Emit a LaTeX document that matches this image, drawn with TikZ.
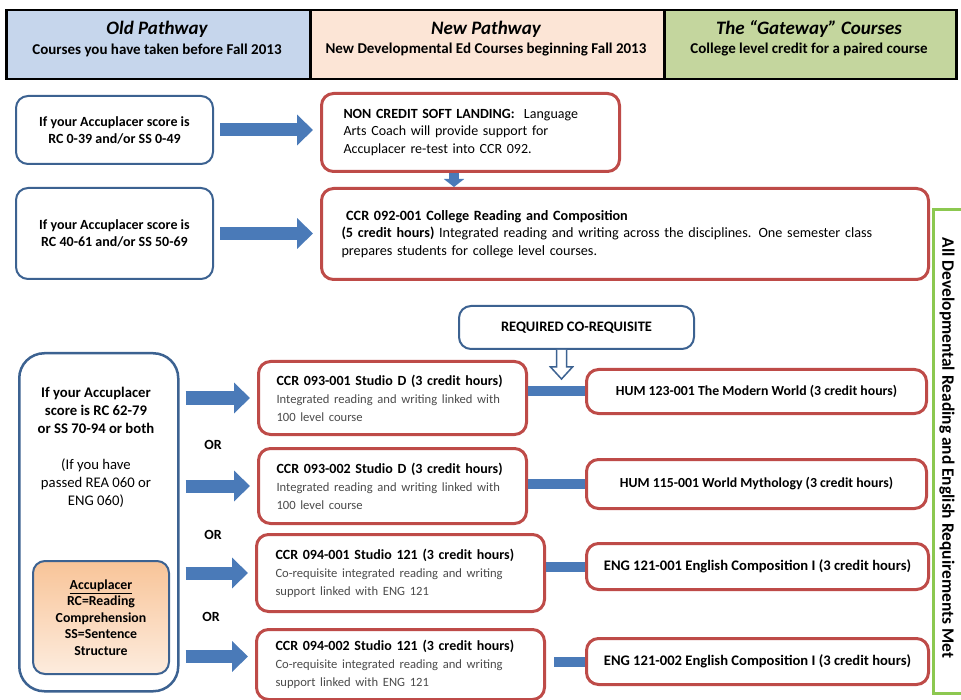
\documentclass[tikz,border=0pt]{standalone}
\usepackage{fontspec}
\setmainfont{Carlito}
\usetikzlibrary{arrows.meta}
\newcommand\myfs[2]{\fontsize{#1}{#2}\selectfont}
\definecolor{bbord}{RGB}{60,98,145}
\definecolor{rbord}{RGB}{190,75,72}
\definecolor{arrblue}{RGB}{74,122,184}
\definecolor{oldfill}{RGB}{198,214,236}
\definecolor{newfill}{RGB}{252,229,214}
\definecolor{gatefill}{RGB}{196,214,158}
\definecolor{gborder}{RGB}{140,200,80}
\definecolor{desc}{RGB}{75,75,75}
\definecolor{accTop}{RGB}{248,196,152}
\definecolor{accBot}{RGB}{253,236,222}
\begin{document}
\begin{tikzpicture}[x=1pt,y=-1pt,
  hdr/.style={draw=black, line width=2.5pt, inner sep=0pt, anchor=north west},
  hdrtitle/.style={inner sep=0pt, font=\bfseries\itshape\myfs{19}{22}},
  hdrsub/.style={inner sep=0pt, font=\bfseries\myfs{15}{18}},
  bluebox/.style={draw=bbord, line width=2pt, rounded corners=12pt, fill=white, inner sep=0pt, align=center, anchor=north west},
  redbox/.style={draw=rbord, line width=3pt, rounded corners=12pt, fill=white, inner sep=0pt, anchor=north west},
  blockarr/.style={line width=13pt, color=arrblue, -{Triangle[length=16pt,width=30pt]}, shorten <=6pt, shorten >=7pt},
  smallarr/.style={line width=10pt, color=arrblue, -{Triangle[length=8pt,width=20pt]}},
  linkbar/.style={line width=10pt, color=arrblue},
  orlabel/.style={font=\bfseries\myfs{14}{16}, inner sep=0pt}
]
\useasboundingbox (0,0) rectangle (961,700);

% header
\node[hdr, fill=oldfill, minimum width=304pt, minimum height=69pt] (old) at (5,9) {};
\node[hdr, fill=newfill, minimum width=354pt, minimum height=69pt] (new) at (309,9) {};
\node[hdr, fill=gatefill, minimum width=292pt, minimum height=69pt] (gate) at (663,9) {};
\node[hdrtitle] (oldt) at (157,29) {Old Pathway};
\node[hdrsub] (olds) at (157,50) {Courses you have taken before Fall 2013};
\node[hdrtitle] (newt) at (486,29) {New Pathway};
\node[hdrsub] (news) at (486,50) {New Developmental Ed Courses beginning Fall 2013};
\node[hdrtitle] (gatet) at (809,29) {The “Gateway” Courses};
\node[hdrsub] (gates) at (809,50) {College level credit for a paired course};

% top rows
\node[bluebox, minimum width=197pt, minimum height=68pt, font=\bfseries\myfs{14}{17}] (b1) at (15,95)
  {If your Accuplacer score is\\RC 0-39 and/or SS 0-49};
\node[bluebox, minimum width=197pt, minimum height=91pt, font=\bfseries\myfs{14}{17}] (b2) at (15,187)
  {If your Accuplacer score is\\RC 40-61 and/or SS 50-69};

\node[redbox, minimum width=298pt, minimum height=78pt, text width=254pt, align=left, font=\myfs{14}{17.5}] (nc) at (320,92)
  {\mbox{\textbf{NON CREDIT SOFT LANDING:}\ \ Language}\\\mbox{Arts Coach will provide support for}\\\mbox{Accuplacer re-test into CCR 092.}};
\node[redbox, minimum width=607pt, minimum height=91pt, text width=567pt, align=left, font=\myfs{14.2}{17.5}] (c92) at (320,187)
  {\mbox{\textbf{\ CCR 092-001 College Reading and Composition}}\\\mbox{\textbf{(5 credit hours)} Integrated reading and writing across the disciplines. One semester class}\\\mbox{prepares students for college level courses.}};

\draw[blockarr] (b1.east) -- (nc.west |- b1.east);
\draw[blockarr] (b2.east) -- (c92.west |- b2.east);
\coordinate (dx) at (454,0);
\draw[smallarr] (nc.south -| dx) -- (c92.north -| dx);

% left big box
\node[bluebox, line width=2.5pt, rounded corners=25pt, minimum width=159pt, minimum height=338pt] (big) at (18,352) {};
\node[align=center, inner sep=0pt, font=\myfs{14.7}{18}] (bigtxt) at (96,447)
  {\textbf{If your Accuplacer}\\\textbf{score is RC 62-79}\\\textbf{or SS 70-94 or both}\\[18pt](If you have\\passed REA 060 or\\ENG 060)};
\node[bluebox, fill=none, top color=accTop, bottom color=accBot, rounded corners=12pt, minimum width=136pt, minimum height=113pt, font=\bfseries\myfs{13.8}{16.5}] (acc) at (32,560)
  {\underline{Accuplacer}\\RC=Reading\\Comprehension\\SS=Sentence\\Structure};

% co-requisite
\node[bluebox, minimum width=235pt, minimum height=43pt, font=\bfseries\myfs{14.5}{16}] (co) at (458,305) {REQUIRED CO-REQUISITE};
\coordinate (ha) at ([xshift=-15pt]co.south);
\draw[draw=bbord, fill=white, line width=1.5pt, line join=miter]
  ([xshift=-5pt]ha) -- ++(0,17) -- ++(-6,0) -- ++(11,12) -- ++(11,-12) -- ++(-6,0) -- ++(0,-17);

% studio boxes
\tikzset{studio/.style={redbox, text width=232pt, align=left, font=\myfs{14}{18}}}
\node[studio, minimum width=268pt, minimum height=73pt] (s1) at (257,360)
  {\mbox{\textbf{CCR 093-001 Studio D (3 credit hours)}}\\\mbox{\color{desc}\myfs{12.6}{18}Integrated reading and writing linked with}\\\mbox{\color{desc}\myfs{12.6}{18}100 level course}};
\node[studio, minimum width=268pt, minimum height=75pt] (s2) at (257,447)
  {\mbox{\textbf{CCR 093-002 Studio D (3 credit hours)}}\\\mbox{\color{desc}\myfs{12.6}{18}Integrated reading and writing linked with}\\\mbox{\color{desc}\myfs{12.6}{18}100 level course}};
\node[studio, text width=250pt, minimum width=288pt, minimum height=77pt] (s3) at (255,533)
  {\mbox{\textbf{CCR 094-001 Studio 121 (3 credit hours)}}\\\mbox{\color{desc}\myfs{12.6}{18}Co-requisite integrated reading and writing}\\\mbox{\color{desc}\myfs{12.6}{18}support linked with ENG 121}};
\node[studio, text width=250pt, minimum width=288pt, minimum height=70pt] (s4) at (255,628)
  {\mbox{\textbf{CCR 094-002 Studio 121 (3 credit hours)}}\\\mbox{\color{desc}\myfs{12.6}{18}Co-requisite integrated reading and writing}\\\mbox{\color{desc}\myfs{12.6}{18}support linked with ENG 121}};

\draw[blockarr] (big.east |- s1.west) -- (s1.west);
\draw[blockarr] (big.east |- s2.west) -- (s2.west);
\draw[blockarr] (big.east |- s3.west) -- (s3.west);
\draw[blockarr] ([yshift=8pt]big.east |- s4.west) -- ([yshift=8pt]s4.west);

\node[orlabel] (or1) at (213,445) {OR};
\node[orlabel] (or2) at (213,535) {OR};
\node[orlabel] (or3) at (211,617) {OR};

% gateway boxes
\tikzset{gatebox/.style={redbox, align=center, font=\bfseries\myfs{13.8}{16}}}
\node[gatebox, minimum width=340pt, minimum height=44pt] (g1) at (585,368) {HUM 123-001 The Modern World (3 credit hours)};
\node[gatebox, minimum width=340pt, minimum height=49pt] (g2) at (585,458) {HUM 115-001 World Mythology (3 credit hours)};
\node[gatebox, minimum width=342pt, minimum height=46pt, font=\bfseries\myfs{14.6}{16}] (g3) at (585,542) {ENG 121-001 English Composition I (3 credit hours)};
\node[gatebox, minimum width=342pt, minimum height=46pt, font=\bfseries\myfs{14.6}{16}] (g4) at (585,637) {ENG 121-002 English Composition I (3 credit hours)};

\draw[linkbar] (s1.east |- g1.west) -- (g1.west);
\draw[linkbar] (s2.east |- g2.west) -- (g2.west);
\draw[linkbar] (s3.east |- g3.west) -- (g3.west);
\draw[linkbar, shorten <=8pt] (s4.east |- g4.west) -- (g4.west);

% green bracket
\node[draw=gborder, line width=3pt, inner sep=0pt, minimum width=60pt, minimum height=484pt, anchor=north west] (met) at (932,208) {};
\node[rotate=-90, inner sep=0pt, font=\bfseries\myfs{17.4}{20}] (mettxt) at (947,448) {All Developmental Reading and English Requirements Met};
\end{tikzpicture}
\end{document}
